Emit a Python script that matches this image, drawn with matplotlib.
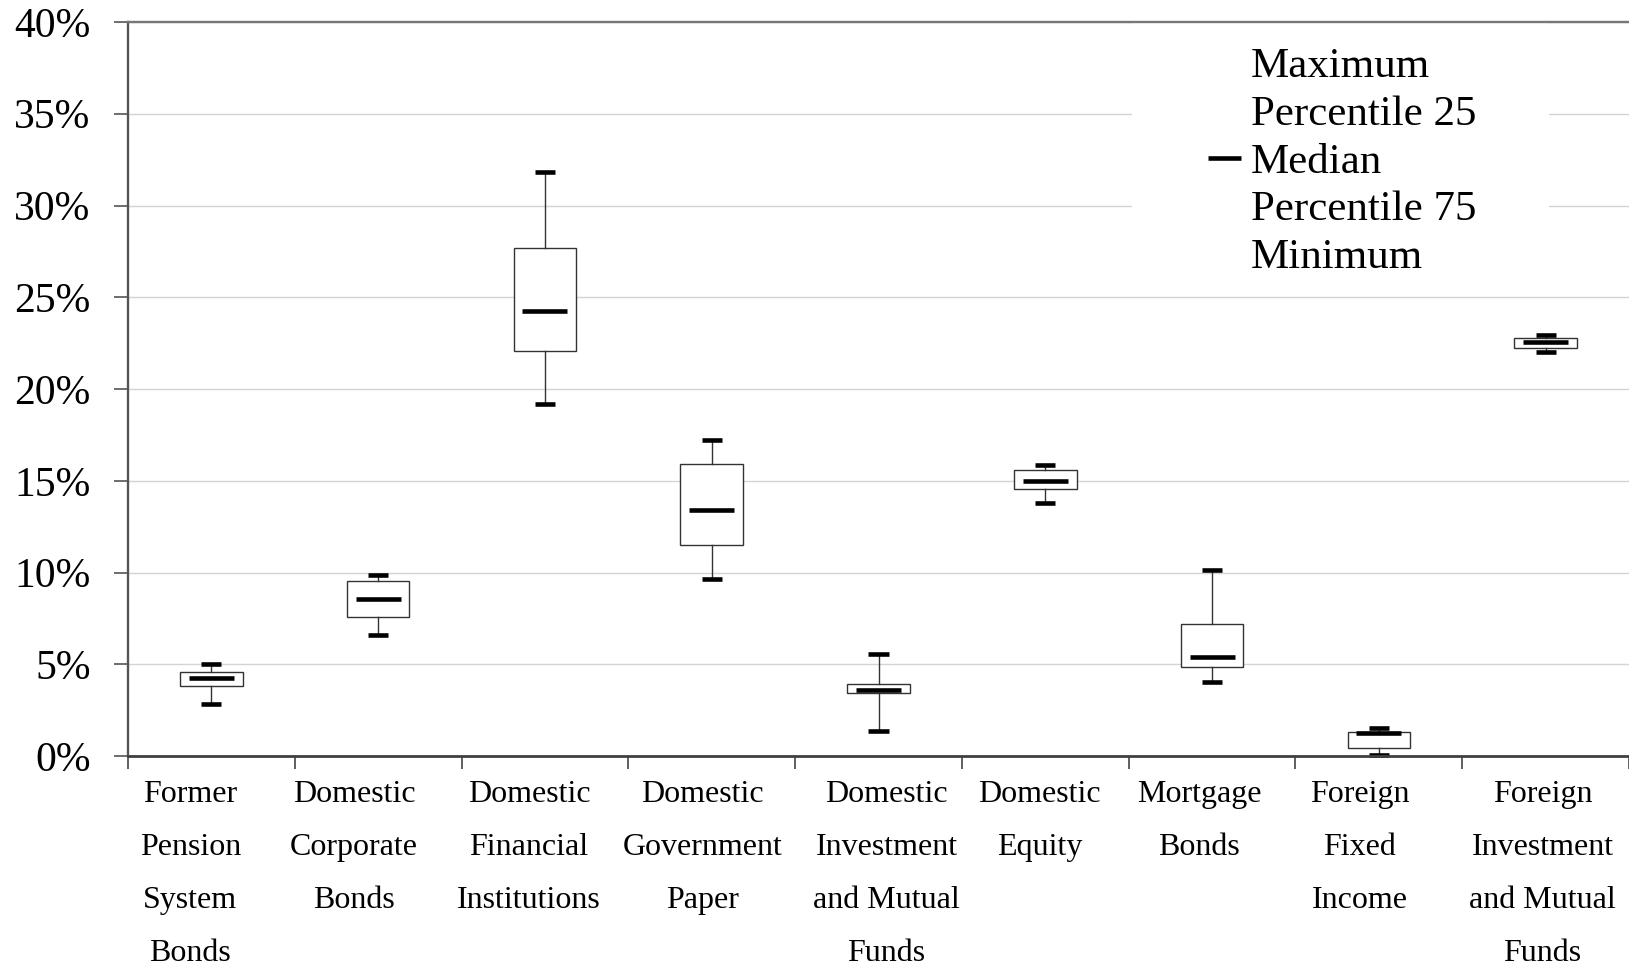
import matplotlib
matplotlib.use("Agg")
import matplotlib.pyplot as plt
from matplotlib.lines import Line2D
from matplotlib.patches import Rectangle
from matplotlib.ticker import FuncFormatter, FixedLocator
from matplotlib.transforms import ScaledTranslation

plt.rcParams['font.family'] = ['Liberation Serif', 'DejaVu Serif']

categories = ["Former\nPension\nSystem\nBonds",
              "Domestic\nCorporate\nBonds",
              "Domestic\nFinancial\nInstitutions",
              "Domestic\nGovernment\nPaper",
              "Domestic\nInvestment\nand Mutual\nFunds",
              "Domestic\nEquity",
              "Mortgage\nBonds",
              "Foreign\nFixed\nIncome",
              "Foreign\nInvestment\nand Mutual\nFunds"]

maximum = [5.04, 9.89, 31.80, 17.20, 5.56, 15.88, 10.14, 1.52, 22.95]
p75     = [4.58, 9.54, 27.70, 15.93, 3.90, 15.56, 7.21, 1.33, 22.76]
median  = [4.25, 8.56, 24.25, 13.41, 3.60, 14.99, 5.42, 1.25, 22.55]
p25     = [3.79, 7.59, 22.09, 11.49, 3.41, 14.53, 4.85, 0.43, 22.22]
minimum = [2.82, 6.61, 19.16, 9.62, 1.38, 13.79, 4.01, 0.08, 22.03]

legend_labels = ["Maximum", "Percentile 25", "Median", "Percentile 75", "Minimum"]
yticks = [0, 5, 10, 15, 20, 25, 30, 35, 40]

# horizontal nudges (pixels) of the wrapped category labels, as laid out in the original
label_nudge_px = [-21, -24, -16, -9, 8, -6, -13, -19, -3]

fig = plt.figure(figsize=(16.29, 9.67), dpi=100)
ax = fig.add_axes([128/1629, 1 - 756/967, 1 - 128/1629, (756 - 22)/967])

positions = list(range(1, len(categories) + 1))
stats = [dict(med=m, q1=a, q3=b, whislo=lo, whishi=hi)
         for m, a, b, lo, hi in zip(median, p25, p75, minimum, maximum)]

ax.bxp(stats, positions=positions, widths=0.375, capwidths=0.12,
       showfliers=False, patch_artist=True,
       boxprops=dict(facecolor='white', edgecolor='#333333', linewidth=1.0),
       whiskerprops=dict(color='#333333', linewidth=1.0),
       capprops=dict(color='black', linewidth=3.3, solid_capstyle='butt', clip_on=False),
       medianprops=dict(linewidth=0),
       manage_ticks=False, zorder=2)

ax.hlines(median, [p - 0.135 for p in positions], [p + 0.135 for p in positions],
          colors='black', linewidth=3.3, zorder=3)

ax.set_xlim(0.5, len(categories) + 0.5)
ax.set_ylim(0, 40)
ax.set_yticks(yticks)
ax.yaxis.set_major_formatter(FuncFormatter(lambda v, p: f"{int(round(v))}%"))
ax.tick_params(axis='y', labelsize=30, length=10, width=1.2, color='#555555', pad=17)

ax.set_xticks(positions)
ax.set_xticklabels(categories, fontsize=23, linespacing=2.10, ha='center', multialignment='center')
ax.xaxis.set_minor_locator(FixedLocator([p - 0.5 for p in positions] + [positions[-1] + 0.5]))
ax.tick_params(axis='x', which='major', length=0, pad=17)
ax.tick_params(axis='x', which='minor', length=9, width=1.2, color='#444444', direction='out')
for lab, dx in zip(ax.get_xticklabels(), label_nudge_px):
    lab.set_transform(lab.get_transform() + ScaledTranslation(dx / 100, 0, fig.dpi_scale_trans))

ax.set_axisbelow(True)
ax.yaxis.grid(True, color='#d4d4d4', linewidth=1.0)
ax.xaxis.grid(False)

ax.spines['left'].set_color('#555555'); ax.spines['left'].set_linewidth(1.7)
ax.spines['top'].set_color('#777777'); ax.spines['top'].set_linewidth(1.7)
ax.spines['bottom'].set_color('#404040'); ax.spines['bottom'].set_linewidth(2.0)
ax.spines['right'].set_visible(False)

# white area behind the legend
ax.add_patch(Rectangle((0.669, 0.677), 0.947 - 0.669, 0.323, transform=ax.transAxes,
                       facecolor='white', edgecolor='none', zorder=1))

handles = []
for lab in legend_labels:
    if lab == "Median":
        handles.append(Line2D([], [], color='black', linewidth=3.3, solid_capstyle='butt'))
    else:
        handles.append(Line2D([], [], color='none'))
leg = ax.legend(handles, legend_labels, loc='upper left',
                bbox_to_anchor=(1208/1629, 1 - 47/967), bbox_transform=fig.transFigure,
                frameon=False, fontsize=31, borderpad=0, handlelength=0.77,
                handletextpad=0.22, labelspacing=0.2, borderaxespad=0)

fig.savefig("out.png", dpi=100)
